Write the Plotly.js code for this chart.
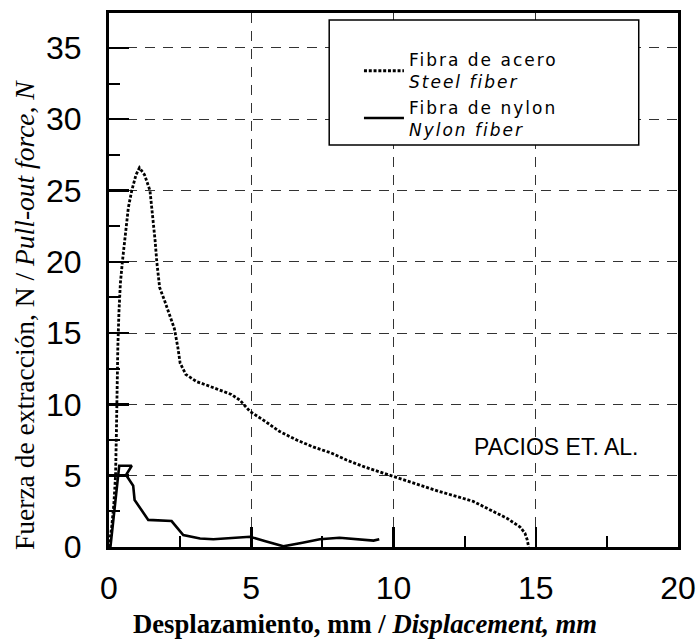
<!DOCTYPE html>
<html>
<head>
<meta charset="utf-8">
<script src="https://cdn.plot.ly/plotly-3.0.1.min.js"></script>
<style>
  html, body { margin: 0; padding: 0; background: #fff; }
  .legendtext { letter-spacing: 2px; }
</style>
</head>
<body>
<div id="chart" style="width:700px;height:639px;"></div>
<script>
// Steel fiber (Fibra de acero)
const steelX = [0, 0.1, 0.17, 0.23, 0.26, 0.28, 0.31, 0.35, 0.4, 0.47, 0.57, 0.68, 0.8, 0.95, 1.07,
  1.25, 1.44, 1.55, 1.62, 1.68, 1.78, 1.95, 2.15, 2.3, 2.42, 2.5, 2.7, 3.08, 3.5, 3.9, 4.3, 4.6, 4.96,
  5.5, 6.0, 6.6, 7.2, 7.8, 8.35, 9.0, 9.5, 10.0, 10.8, 11.6, 12.3, 12.8, 13.4, 14.0, 14.45, 14.62, 14.7, 14.75];
const steelY = [0, 1.5, 3, 5, 8, 11, 14, 16.5, 18.5, 20, 22, 23.8, 25, 26.1, 26.6,
  26.1, 25, 23, 21.5, 20, 18.2, 17.3, 16.2, 15.3, 14, 12.9, 12.1, 11.6, 11.3, 11.0, 10.7, 10.3, 9.5,
  8.8, 8.1, 7.5, 7.0, 6.6, 6.1, 5.6, 5.28, 4.93, 4.4, 3.9, 3.5, 3.2, 2.6, 2.0, 1.4, 0.97, 0.5, 0];

// Nylon fiber (Fibra de nylon)
const nylonX = [0.05, 0.36, 0.8, 0.6, 0.85, 0.9, 1.38, 2.2, 2.61, 3.2, 3.67, 4.3, 4.96, 5.5, 6.13,
  6.8, 7.41, 8.1, 8.8, 9.3, 9.5];
const nylonY = [0, 5.7, 5.7, 5.05, 4.3, 3.3, 1.9, 1.82, 0.84, 0.6, 0.54, 0.65, 0.72, 0.4, 0.05,
  0.3, 0.54, 0.65, 0.55, 0.45, 0.55];

const seriesNames = ["Fibra de acero<br><i>Steel fiber</i>", "Fibra de nylon<br><i>Nylon fiber</i>"];
const xTicks = [0, 5, 10, 15, 20];
const yTicks = [0, 5, 10, 15, 20, 25, 30, 35];

const tickFont = { family: "Liberation Sans, Arial, sans-serif", size: 32, color: "#000" };
const serif = "Liberation Serif, Times New Roman, serif";

const traces = [
  { x: steelX, y: steelY, type: "scatter", mode: "lines", name: seriesNames[0],
    line: { color: "#000", width: 2.8, dash: "3px,1.8px" } },
  { x: nylonX, y: nylonY, type: "scatter", mode: "lines", name: seriesNames[1],
    line: { color: "#000", width: 2.6 } }
];

const axisCommon = {
  showline: true, linecolor: "#000", linewidth: 3, mirror: true,
  ticks: "inside", ticklen: 20, tickwidth: 2.5, tickcolor: "#000",
  showgrid: true, gridcolor: "#333", gridwidth: 1, griddash: "10px,8px",
  zeroline: false, tickfont: tickFont,
  minor: { dtick: 2.5, ticks: "inside", ticklen: 11, tickwidth: 2, tickcolor: "#000", showgrid: false }
};

const layout = {
  width: 700, height: 639,
  margin: { l: 109, r: 22, t: 13, b: 92 },
  paper_bgcolor: "#fff", plot_bgcolor: "#fff",
  showlegend: true,
  xaxis: Object.assign({}, axisCommon, { range: [0, 20], tickvals: xTicks, ticklabelstandoff: 11 }),
  yaxis: Object.assign({}, axisCommon, { range: [0, 37.45], tickvals: yTicks, ticklabelstandoff: 18 }),
  legend: {
    x: 0.4393, y: 0.9454, xanchor: "left", yanchor: "top",
    bgcolor: "rgba(0,0,0,0)", borderwidth: 0, itemwidth: 40,
    font: { family: "DejaVu Sans, sans-serif", size: 17, color: "#000" }
  },
  shapes: [
    { type: "rect", xref: "paper", yref: "paper", x0: 0.387, x1: 0.931, y0: 0.753, y1: 0.987,
      line: { color: "#000", width: 1.5 }, fillcolor: "#fff", layer: "above" }
  ],
  annotations: [
    { text: "PACIOS ET. AL.", xref: "x", yref: "y", x: 15.7, y: 7.0, showarrow: false,
      font: { family: "Liberation Sans, Arial, sans-serif", size: 23, color: "#000" } },
    { text: "Desplazamiento, mm / <i>Displacement, mm</i>", xref: "paper", yref: "paper",
      x: 0.45, y: -0.144, xanchor: "center", yanchor: "middle", showarrow: false,
      font: { family: serif, size: 26.7, color: "#000", weight: "bold" } },
    { text: "Fuerza de extracción, N / <i>Pull-out force, N</i>", xref: "paper", yref: "paper",
      x: -0.1476, y: 0.4345, xanchor: "center", yanchor: "middle", textangle: -90, showarrow: false,
      font: { family: serif, size: 27.5, color: "#000" } }
  ]
};

Plotly.newPlot("chart", traces, layout, { displayModeBar: false, staticPlot: true });
</script>
</body>
</html>
